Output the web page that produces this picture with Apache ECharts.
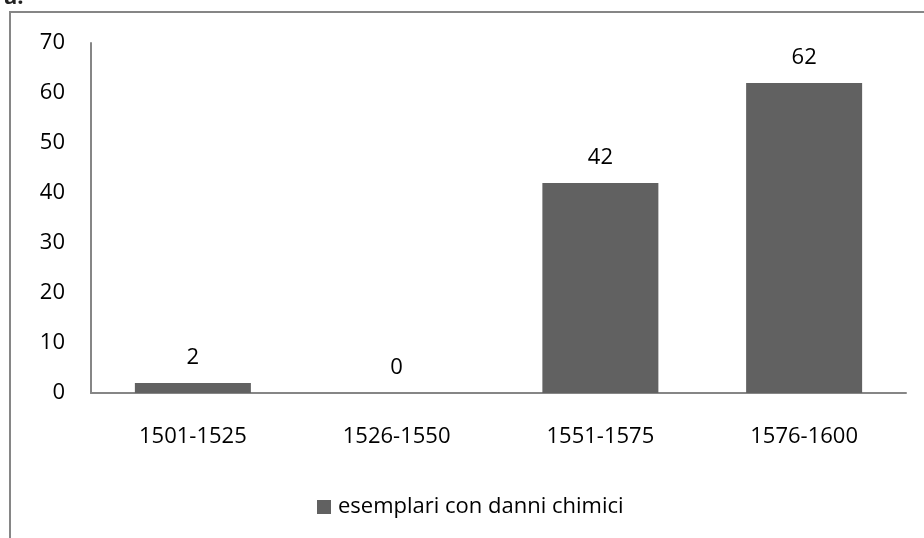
<!DOCTYPE html>
<html>
<head>
<meta charset="utf-8">
<script src="https://cdn.jsdelivr.net/npm/echarts@6/dist/echarts.min.js"></script>
<style>
  html, body { margin: 0; padding: 0; background: #ffffff; }
  #chart { width: 924px; height: 538px; }
</style>
</head>
<body>
<div id="chart"></div>
<script>
// Periods (quarter-centuries) and number of copies with chemical damage
const periods = ['1501-1525', '1526-1550', '1551-1575', '1576-1600'];
const damagedCopies = [2, 0, 42, 62];
const seriesName = 'esemplari con danni chimici';

const FONT = '"Open Sans", Lato, "Liberation Sans", sans-serif';

const chart = echarts.init(document.getElementById('chart'), null, { renderer: 'canvas' });

chart.setOption({
  animation: false,
  backgroundColor: '#ffffff',
  textStyle: { fontFamily: FONT },
  graphic: [
    // outer frame of the chart area (continues past the right and bottom edges)
    {
      type: 'rect',
      shape: { x: 10, y: 12, width: 940, height: 560 },
      style: { fill: 'none', stroke: '#868686', lineWidth: 2 },
      silent: true
    },
    {
      type: 'text',
      left: 4,
      top: -13,
      style: { text: 'a.', font: 'bold 22px ' + FONT, fill: '#222222' },
      silent: true
    }
  ],
  grid: { left: 91, right: 18, top: 43, bottom: 145, containLabel: false },
  legend: {
    data: [seriesName],
    bottom: 15,
    left: 312,
    icon: 'rect',
    itemWidth: 14,
    itemHeight: 14,
    itemGap: 7,
    textStyle: { fontSize: 22, color: '#000000', fontFamily: FONT, padding: [0, 0, 0, 2] }
  },
  xAxis: {
    type: 'category',
    data: periods,
    axisLine: { show: true, lineStyle: { color: '#868686', width: 2 } },
    axisTick: { show: false },
    axisLabel: { fontSize: 22, color: '#000000', margin: 33, fontFamily: FONT },
    splitLine: { show: false }
  },
  yAxis: {
    type: 'value',
    min: 0,
    max: 70,
    interval: 10,
    axisLine: { show: true, lineStyle: { color: '#868686', width: 2 } },
    axisTick: { show: false },
    axisLabel: { fontSize: 22, color: '#000000', margin: 26, fontFamily: FONT },
    splitLine: { show: false }
  },
  series: [{
    name: seriesName,
    type: 'bar',
    data: damagedCopies,
    barWidth: 116,
    itemStyle: { color: '#616161' },
    label: {
      show: true,
      position: 'top',
      distance: 14,
      fontSize: 22,
      color: '#000000',
      fontFamily: FONT
    }
  }]
});
</script>
</body>
</html>
